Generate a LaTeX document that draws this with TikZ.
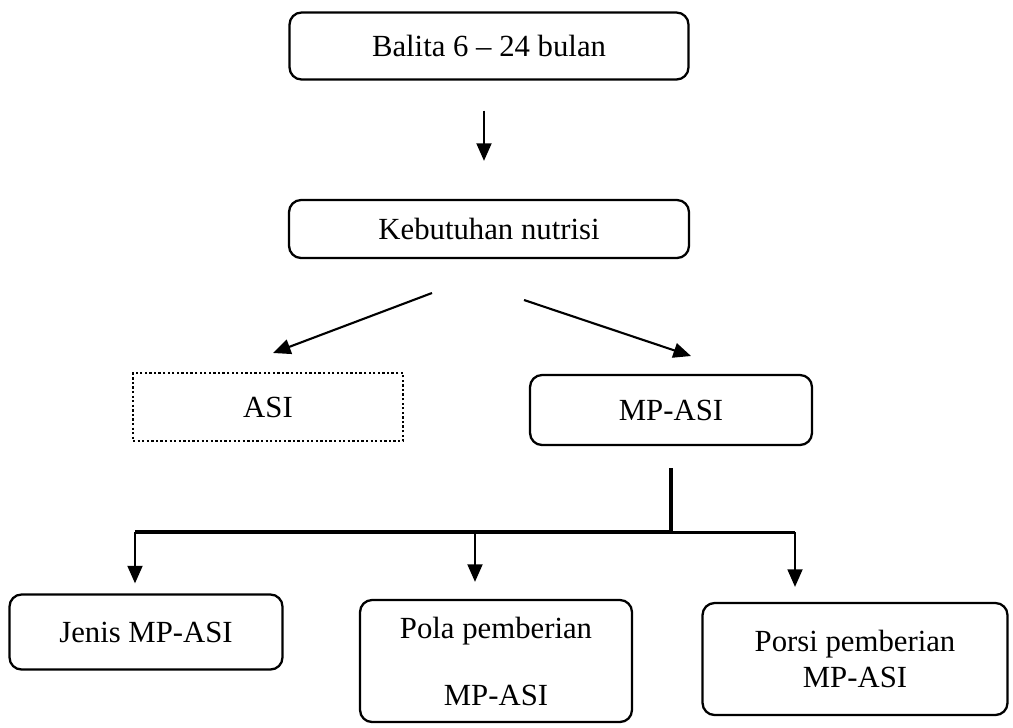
\documentclass[tikz,border=0pt]{standalone}
\usepackage{fontspec}
\setmainfont{Liberation Serif}
\usepackage{tikz}
\usetikzlibrary{arrows.meta, positioning, calc}

\tikzset{
    box/.style={draw, line width=1.3pt, rounded corners=0.24cm, align=center,
        font=\fontsize{17.5}{20.5}\selectfont},
    dotbox/.style={draw, line width=1.4pt, dash pattern=on 1.3pt off 1.3pt, align=center,
        font=\fontsize{17.5}{20.5}\selectfont},
    arr/.style={line width=1.2pt, -{Triangle[length=10pt, width=8.5pt]}},
}

\begin{document}
\begin{tikzpicture}[x=0.02cm, y=-0.02cm]
        \useasboundingbox (0, 0) rectangle (1013, 727);

        % Top boxes
        \node[box, minimum width=7.98cm, minimum height=1.34cm] (balita) at (489, 46) {Balita 6 -- 24 bulan};
        \node[box, minimum width=8cm, minimum height=1.16cm] (nutrisi) at (489, 229) {Kebutuhan nutrisi};
        \draw[arr, shorten <=0.6cm, shorten >=0.76cm] (balita.south -| 484, 0) -- (nutrisi.north -| 484, 0);

        % ASI and MP-ASI
        \node[dotbox, minimum width=5.4cm, minimum height=1.36cm] (asi) at (268, 407) {ASI};
        \node[box, minimum width=5.64cm, minimum height=1.4cm] (mpasi) at (671, 410) {MP-ASI};
        \coordinate (kl) at (432, 293);
        \coordinate (kr) at (524, 300);
        \coordinate (asitip) at (273, 353);
        \coordinate (mptip) at (691, 356);
        \draw[arr] (kl) -- (asitip);
        \draw[arr] (kr) -- (mptip);

        % Branch
        \coordinate (split) at (671, 532);
        \coordinate (barL) at (135, 532);
        \coordinate (barM) at (475, 532);
        \coordinate (barR) at (795, 532);
        \draw[line width=2.8pt, shorten <=0.44cm] (mpasi.south) -- (split);
        \draw[line width=2pt] (barL) -- (split);
        \draw[line width=1.7pt] (split) -- (barR);

        % Bottom boxes
        \node[box, minimum width=5.46cm, minimum height=1.5cm] (jenis) at (146, 632) {Jenis MP-ASI};
        \node[box, minimum width=5.44cm, minimum height=2.44cm] (pola) at (496, 661) {Pola pemberian\\[0.62cm] MP-ASI};
        \node[box, minimum width=6.1cm, minimum height=2.24cm] (porsi) at (855, 659) {Porsi pemberian\\ MP-ASI};
        \draw[arr, shorten >=0.2cm] (barL) -- (barL |- jenis.north);
        \draw[arr, shorten >=0.34cm] (barM) -- (barM |- pola.north);
        \draw[arr, shorten >=0.3cm] (barR) -- (barR |- porsi.north);
\end{tikzpicture}
\end{document}
